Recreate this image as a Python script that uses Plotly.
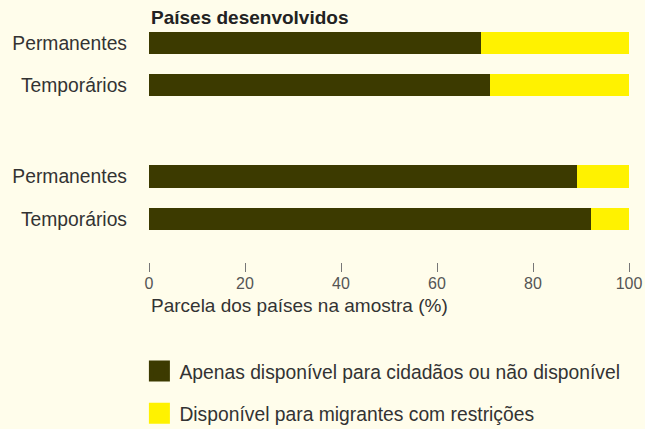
import plotly.graph_objects as go

# ---- data ----
categories = ["Permanentes", "Temporários"]
developed_not_available = [69.2, 71.0]
developed_available = [30.8, 29.0]
developing_not_available = [89.2, 92.1]
developing_available = [10.8, 7.9]
series_names = ["Apenas disponível para cidadãos ou não disponível",
                "Disponível para migrantes com restrições"]
group_title = "Países desenvolvidos"
x_title = "Parcela dos países na amostra (%)"
x_ticks = [0, 20, 40, 60, 80, 100]

DARK = "#3c3a00"
YELLOW = "#fff200"
BG = "#fffdeb"
TXT = "#333333"
FONT = "Liberation Sans"
W, H = 645, 429

def py(p):
    return 1 - p / H

fig = go.Figure()
colors = [DARK, YELLOW]
for vals, yax in [((developed_not_available, developed_available), "y"),
                  ((developing_not_available, developing_available), "y2")]:
    for v, c, n in zip(vals, colors, series_names):
        fig.add_trace(go.Bar(x=v, y=categories, orientation="h", marker=dict(color=c, line_width=0),
                             name=n, yaxis=yax, xaxis="x", showlegend=False, hoverinfo="x+y"))

# legend entries
for c, n, g in zip(colors, series_names, ["a", "b"]):
    fig.add_trace(go.Scatter(x=[None], y=[None], mode="markers", name=n, legendgroup=g,
                             marker=dict(symbol="square", size=16, color=c, line=dict(color=c, width=5)),
                             yaxis="y2", xaxis="x"))

fig.update_layout(
    width=W, height=H, autosize=False,
    paper_bgcolor=BG, plot_bgcolor=BG,
    margin=dict(l=149, r=16, t=0, b=0, autoexpand=False),
    barmode="stack", bargap=0.48,
    font=dict(family=FONT, size=19, color=TXT),
    xaxis=dict(domain=[0, 1], range=[0, 100], anchor="y2", tickvals=x_ticks,
               ticks="outside", ticklen=9, tickcolor="#777777", tickwidth=1,
               ticklabelstandoff=-2,
               showgrid=False, zeroline=False, showline=False, automargin=False,
               tickfont=dict(size=16, color="#555555")),
    yaxis=dict(domain=[py(106), py(22)], range=[1.5, -0.5], anchor="x",
               showgrid=False, zeroline=False, showline=False, ticks="", automargin=False,
               ticklabelstandoff=21, tickfont=dict(size=19.3, color=TXT)),
    yaxis2=dict(domain=[py(262), py(155)], range=[1.5 + 21.5 / 43, -0.5], anchor="x",
                showgrid=False, zeroline=False, showline=False, ticks="", automargin=False,
                ticklabelstandoff=21, tickfont=dict(size=19.3, color=TXT)),
    legend=dict(x=-0.02, xanchor="left", y=py(352), yanchor="top",
                bgcolor="rgba(0,0,0,0)", tracegroupgap=14,
                font=dict(size=19.3, color=TXT)),
    annotations=[
        dict(text="<b>" + group_title + "</b>", x=0, xref="paper", xanchor="left",
             y=py(30), yref="paper", yanchor="bottom", showarrow=False,
             font=dict(size=19, color="#222222")),
        dict(text=x_title, x=0, xref="paper", xanchor="left",
             y=py(293), yref="paper", yanchor="top", showarrow=False,
             font=dict(size=19, color=TXT)),
    ],
)

fig.write_html(
    "out.html",
    config={"displayModeBar": False},
    post_script="document.body.style.margin='0';document.body.style.background='" + BG + "';"
                "document.documentElement.style.background='" + BG + "';",
)
